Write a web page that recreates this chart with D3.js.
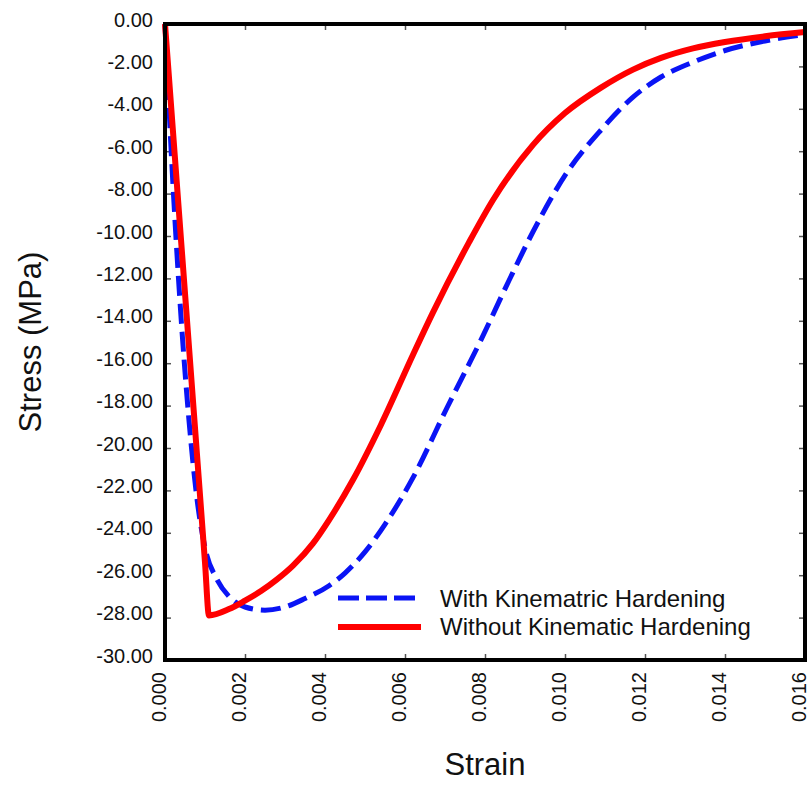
<!DOCTYPE html>
<html>
<head>
<meta charset="utf-8">
<script src="https://cdn.jsdelivr.net/npm/d3@7"></script>
<style>
  body { margin: 0; background: #fff; }
  text { font-family: 'Liberation Sans', Arial, sans-serif; fill: #111; }
</style>
</head>
<body>
<script>
// strain / stress
var withStrain = [0, 0.0002, 0.0004, 0.0006, 0.0008, 0.001, 0.0013, 0.0016, 0.002, 0.0025, 0.003, 0.0035, 0.0041, 0.0045, 0.005, 0.0055, 0.0062, 0.00705, 0.0079, 0.0086, 0.0092, 0.01005, 0.0109, 0.0117, 0.0124, 0.0132, 0.014, 0.015, 0.016]
var withStress = [0, -7.6, -13.8, -18.7, -22.4, -24.7, -26.2, -27.0, -27.5, -27.65, -27.5, -27.1, -26.5, -25.9, -24.9, -23.6, -21.4, -18.1, -14.9, -12.1, -9.8, -7.0, -5.0, -3.45, -2.5, -1.8, -1.25, -0.8, -0.5]

var withoutStrain = [0, 0.001, 0.0011, 0.0016, 0.002, 0.0024, 0.0028, 0.0032, 0.0037, 0.0041, 0.0047, 0.0054, 0.0062, 0.0067, 0.0076, 0.0082, 0.0092, 0.01, 0.0109, 0.0117, 0.0124, 0.0132, 0.014, 0.015, 0.016]
var withoutStress = [0, -25.4, -27.9, -27.6, -27.2, -26.75, -26.2, -25.55, -24.5, -23.4, -21.5, -18.9, -15.6, -13.6, -10.3, -8.3, -5.7, -4.2, -3.0, -2.15, -1.6, -1.15, -0.85, -0.58, -0.38]

var xTicks = [0, 0.002, 0.004, 0.006, 0.008, 0.010, 0.012, 0.014, 0.016]
var yTicks = [0, -2, -4, -6, -8, -10, -12, -14, -16, -18, -20, -22, -24, -26, -28, -30]

var seriesNames = ['With Kinematric Hardening', 'Without Kinematic Hardening']

var W = 808
  , H = 785
  , plotL = 165
  , plotR = 805
  , plotT = 24
  , plotB = 660

var svg = d3.select('body').append('svg')
  .attr('width', W)
  .attr('height', H)

var x = d3.scaleLinear().domain([0, 0.016]).range([plotL, plotR])
  , y = d3.scaleLinear().domain([0, -30]).range([plotT, plotB])

function zipPts(xs, ys) {
  return xs.map(function(d, i) { return [d, ys[i]] })
}

var line = d3.line()
  .x(function(d) { return x(d[0]) })
  .y(function(d) { return y(d[1]) })
  .curve(d3.curveMonotoneX)

// axes, ticks point inward
var yAxis = d3.axisLeft(y).tickValues(yTicks)
  .tickFormat(function(d) { return d.toFixed(2) })
  .tickSizeInner(-6).tickSizeOuter(0).tickPadding(12)
var xAxis = d3.axisBottom(x).tickValues(xTicks)
  .tickFormat(function(d) { return d.toFixed(3) })
  .tickSizeInner(-6).tickSizeOuter(0).tickPadding(12)

var gy = svg.append('g').attr('transform', 'translate(' + plotL + ',0)').call(yAxis)
gy.selectAll('text')
  .attr('dy', '0.35em')
  .attr('y', -5)
  .style('font-size', '20px')

var gx = svg.append('g').attr('transform', 'translate(0,' + plotB + ')').call(xAxis)
gx.selectAll('text')
  .attr('transform', 'rotate(-90)')
  .attr('text-anchor', 'end')
  .attr('x', -12)
  .attr('y', -7)
  .attr('dy', '0.35em')
  .style('font-size', '20px')

svg.append('g').attr('transform', 'translate(0,' + plotT + ')')
  .call(d3.axisTop(x).tickValues(xTicks).tickFormat('').tickSizeInner(-6).tickSizeOuter(0))
svg.append('g').attr('transform', 'translate(' + plotR + ',0)')
  .call(d3.axisRight(y).tickValues(yTicks).tickFormat('').tickSizeInner(-6).tickSizeOuter(0))

svg.selectAll('.domain').remove()
svg.selectAll('.tick line').attr('stroke', '#555').attr('stroke-width', 1.5)

// curves
svg.append('path')
  .datum(zipPts(withStrain, withStress))
  .attr('d', line)
  .attr('fill', 'none')
  .attr('stroke', '#0a14f5')
  .attr('stroke-width', 5)
  .attr('stroke-dasharray', '20,8')

svg.append('path')
  .datum(zipPts(withoutStrain, withoutStress))
  .attr('d', line)
  .attr('fill', 'none')
  .attr('stroke', '#ff0000')
  .attr('stroke-width', 6)
  .attr('stroke-linejoin', 'miter')

// frame
svg.append('rect')
  .attr('x', plotL).attr('y', plotT)
  .attr('width', plotR - plotL).attr('height', plotB - plotT)
  .attr('fill', 'none')
  .attr('stroke', '#000')
  .attr('stroke-width', 4)

// legend
var leg = svg.append('g')
leg.append('line')
  .attr('x1', 338).attr('x2', 416).attr('y1', 598).attr('y2', 598)
  .attr('stroke', '#0a14f5').attr('stroke-width', 5)
  .attr('stroke-dasharray', '21,7')
leg.append('line')
  .attr('x1', 338).attr('x2', 421).attr('y1', 627).attr('y2', 627)
  .attr('stroke', '#ff0000').attr('stroke-width', 6)
leg.selectAll('text.lab').data(seriesNames).enter()
  .append('text')
  .attr('class', 'lab')
  .attr('x', 440)
  .attr('y', function(d, i) { return 607 + i * 28 })
  .style('font-size', '24px')
  .text(function(d) { return d })

// axis titles
svg.append('text')
  .attr('x', (plotL + plotR) / 2)
  .attr('y', 775)
  .attr('text-anchor', 'middle')
  .style('font-size', '31px')
  .text('Strain')

svg.append('text')
  .attr('transform', 'translate(41,' + ((plotT + plotB) / 2) + ') rotate(-90)')
  .attr('text-anchor', 'middle')
  .style('font-size', '31px')
  .text('Stress (MPa)')
</script>
</body>
</html>
